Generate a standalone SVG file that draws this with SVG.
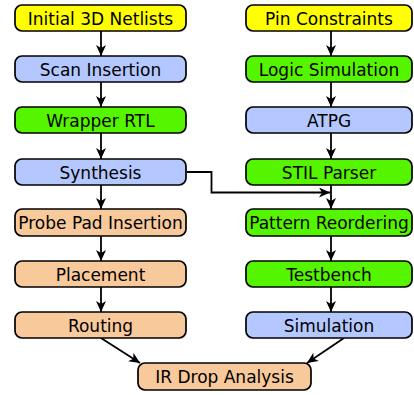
<svg xmlns="http://www.w3.org/2000/svg" width="414" height="395" viewBox="0 0 414 395">
<style>
.b{stroke:#000;stroke-width:1.7}
.y{fill:#ffff00}.bl{fill:#b4c8ff}.g{fill:#55f500}.o{fill:#f8c99b}
text{font-family:"DejaVu Sans",sans-serif;font-size:17px;text-anchor:middle;fill:#000}
.c{stroke:#000;stroke-width:1.8;fill:none;marker-end:url(#a)}
</style>
<defs>
<marker id="a" markerWidth="12" markerHeight="10" refX="11" refY="5" orient="auto" markerUnits="userSpaceOnUse">
<path d="M0,0 L11,5 L0,10 L3,5 Z" fill="#000"/>
</marker>
</defs>
<rect width="414" height="395" fill="#fff"/>
<g id="connectors">
<path class="c" d="M101,31 V56"/>
<path class="c" d="M101,82 V107"/>
<path class="c" d="M101,133 V159"/>
<path class="c" d="M101,185 V209"/>
<path class="c" d="M101,236 V261"/>
<path class="c" d="M101,287 V312"/>
<path class="c" d="M331,31 V56"/>
<path class="c" d="M331,82 V107"/>
<path class="c" d="M331,133 V159"/>
<path class="c" d="M331,185 V209"/>
<path class="c" d="M331,236 V261"/>
<path class="c" d="M331,287 V312"/>
<path class="c" d="M187,172 H211.5 V192.5 H330"/>
<path class="c" d="M101,338 L140,363"/>
<path class="c" d="M344,338 L307,363"/>
</g>
<g id="n1"><rect class="b y" x="15" y="5" width="171" height="26" rx="7"/><text x="100.5" y="24.5">Initial 3D Netlists</text></g>
<g id="n2"><rect class="b bl" x="15" y="56" width="171" height="26" rx="7"/><text x="100.5" y="75.5">Scan Insertion</text></g>
<g id="n3"><rect class="b g" x="15" y="107" width="171" height="26" rx="7"/><text x="100.5" y="126.5">Wrapper RTL</text></g>
<g id="n4"><rect class="b bl" x="15" y="159" width="171" height="26" rx="7"/><text x="100.5" y="178.5">Synthesis</text></g>
<g id="n5"><rect class="b o" x="15" y="209" width="171" height="27" rx="7"/><text x="100.5" y="229">Probe Pad Insertion</text></g>
<g id="n6"><rect class="b o" x="15" y="261" width="171" height="26" rx="7"/><text x="100.5" y="280.5">Placement</text></g>
<g id="n7"><rect class="b o" x="15" y="312" width="171" height="26" rx="7"/><text x="100.5" y="331.5">Routing</text></g>
<g id="m1"><rect class="b y" x="246" y="5" width="166" height="26" rx="7"/><text x="329" y="24.5">Pin Constraints</text></g>
<g id="m2"><rect class="b g" x="246" y="56" width="166" height="26" rx="7"/><text x="329" y="75.5">Logic Simulation</text></g>
<g id="m3"><rect class="b bl" x="246" y="107" width="166" height="26" rx="7"/><text x="329" y="126.5">ATPG</text></g>
<g id="m4"><rect class="b g" x="246" y="159" width="166" height="26" rx="7"/><text x="329" y="178.5">STIL Parser</text></g>
<g id="m5"><rect class="b g" x="246" y="209" width="166" height="27" rx="7"/><text x="329" y="229">Pattern Reordering</text></g>
<g id="m6"><rect class="b g" x="246" y="261" width="166" height="26" rx="7"/><text x="329" y="280.5">Testbench</text></g>
<g id="m7"><rect class="b bl" x="246" y="312" width="166" height="26" rx="7"/><text x="329" y="331.5">Simulation</text></g>
<g id="ir"><rect class="b o" x="138" y="363" width="173" height="27" rx="7"/><text x="224.5" y="383">IR Drop Analysis</text></g>
</svg>
